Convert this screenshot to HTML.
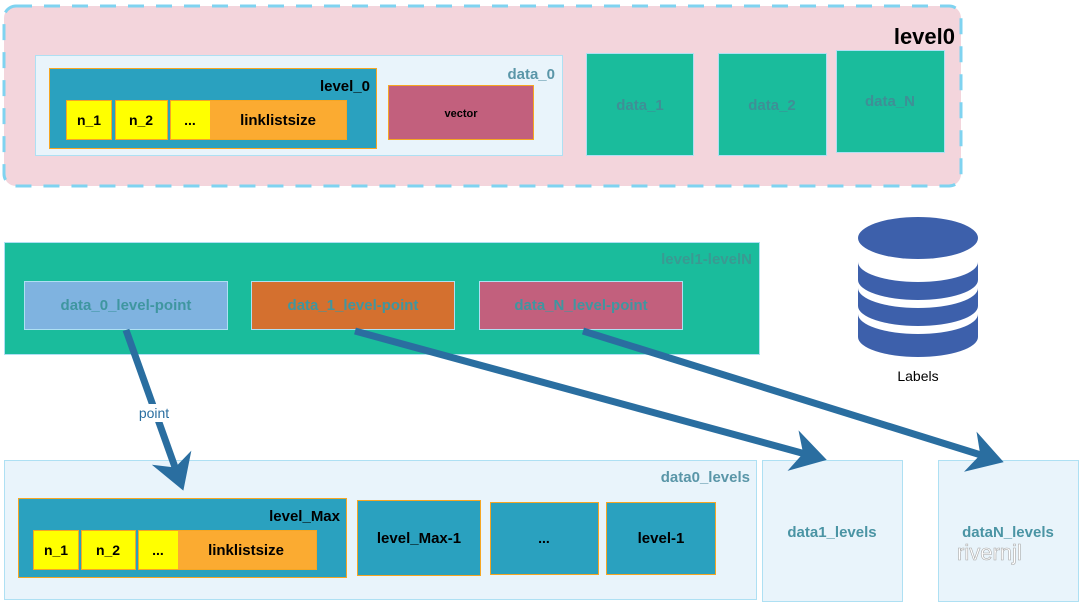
<!DOCTYPE html>
<html><head><meta charset="utf-8"><style>
html,body{margin:0;padding:0;background:#fff;}
svg{display:block;font-family:"Liberation Sans",sans-serif;font-weight:bold;}
</style></head><body>
<svg width="1080" height="602" viewBox="0 0 1080 602">
<defs>
<marker id="ah" markerWidth="6" markerHeight="6" refX="4" refY="3" orient="auto" markerUnits="strokeWidth"><path d="M0,0 L5,3 L0,6 L1.5,3 Z" fill="#2a6ea0"/></marker>
</defs>
<rect x="4" y="6" width="957" height="180" rx="12" fill="#f3d5dc" stroke="#7fd3f0" stroke-width="3" stroke-dasharray="16,12"/>
<text x="955" y="44" text-anchor="end" font-size="22" fill="#000">level0</text>
<rect x="35.5" y="55.5" width="527" height="100" fill="#e9f4fb" stroke="#aee0f3"/>
<text x="555" y="79" text-anchor="end" font-size="15" fill="#5a96a8">data_0</text>
<rect x="49.5" y="68.5" width="327" height="80" fill="#2aa1bf" stroke="#f5a623"/>
<text x="370" y="91" text-anchor="end" font-size="15" fill="#000">level_0</text>
<rect x="66.5" y="100.5" width="45" height="39" fill="#ffff00" stroke="#f5a623"/>
<text x="89" y="125" text-anchor="middle" font-size="14">n_1</text>
<rect x="115.5" y="100.5" width="52" height="39" fill="#ffff00" stroke="#f5a623"/>
<text x="141" y="125" text-anchor="middle" font-size="14">n_2</text>
<rect x="170.5" y="100.5" width="176" height="39" fill="#fbab31" stroke="#f5a623"/>
<rect x="171" y="101" width="39" height="38" fill="#ffff00"/>
<text x="190" y="125" text-anchor="middle" font-size="14">...</text>
<text x="278" y="125" text-anchor="middle" font-size="15">linklistsize</text>
<rect x="388.5" y="85.5" width="145" height="54" fill="#c2607d" stroke="#f5a623"/>
<text x="461" y="117" text-anchor="middle" font-size="11">vector</text>
<rect x="586.5" y="53.5" width="107" height="102" fill="#1abc9c" stroke="#aee0f3"/>
<text x="640" y="110" text-anchor="middle" font-size="15" fill="#3f8f96">data_1</text>
<rect x="718.5" y="53.5" width="108" height="102" fill="#1abc9c" stroke="#aee0f3"/>
<text x="772" y="110" text-anchor="middle" font-size="15" fill="#3f8f96">data_2</text>
<rect x="836.5" y="50.5" width="108" height="102" fill="#1abc9c" stroke="#aee0f3"/>
<text x="890" y="106" text-anchor="middle" font-size="15" fill="#3f8f96">data_N</text>
<rect x="4.5" y="242.5" width="755" height="112" fill="#1abc9c" stroke="#aee0f3"/>
<text x="752" y="264" text-anchor="end" font-size="15" fill="#3a9a92">level1-levelN</text>
<rect x="24.5" y="281.5" width="203" height="48" fill="#7fb3e0" stroke="#aee0f3"/>
<text x="126" y="310" text-anchor="middle" font-size="15" fill="#3f96a0">data_0_level-point</text>
<rect x="251.5" y="281.5" width="203" height="48" fill="#d4702f" stroke="#aee0f3"/>
<text x="353" y="310" text-anchor="middle" font-size="15" fill="#3f96a0">data_1_level-point</text>
<rect x="479.5" y="281.5" width="203" height="48" fill="#c2607d" stroke="#aee0f3"/>
<text x="581" y="310" text-anchor="middle" font-size="15" fill="#3f96a0">data_N_level-point</text>
<g fill="#3d60ab">
<path d="M858,262 A60,20 0 0 0 978,262 L978,280 A60,20 0 0 1 858,280 Z"/>
<path d="M858,288 A60,20 0 0 0 978,288 L978,306 A60,20 0 0 1 858,306 Z"/>
<path d="M858,314 A60,20 0 0 0 978,314 L978,337 A60,20 0 0 1 858,337 Z"/>
<ellipse cx="918" cy="238" rx="60" ry="21"/>
</g>
<text x="918" y="381" text-anchor="middle" font-size="14" font-weight="normal" fill="#000">Labels</text>
<rect x="4.5" y="460.5" width="752" height="139" fill="#e9f4fb" stroke="#aee0f3"/>
<text x="750" y="482" text-anchor="end" font-size="15" fill="#5a96a8">data0_levels</text>
<rect x="18.5" y="498.5" width="328" height="79" fill="#2aa1bf" stroke="#f5a623"/>
<text x="340" y="521" text-anchor="end" font-size="15" fill="#000">level_Max</text>
<rect x="33.5" y="530.5" width="45" height="39" fill="#ffff00" stroke="#f5a623"/>
<text x="56" y="555" text-anchor="middle" font-size="14">n_1</text>
<rect x="81.5" y="530.5" width="54" height="39" fill="#ffff00" stroke="#f5a623"/>
<text x="108" y="555" text-anchor="middle" font-size="14">n_2</text>
<rect x="138.5" y="530.5" width="178" height="39" fill="#fbab31" stroke="#f5a623"/>
<rect x="139" y="531" width="39" height="38" fill="#ffff00"/>
<text x="158" y="555" text-anchor="middle" font-size="14">...</text>
<text x="246" y="555" text-anchor="middle" font-size="15">linklistsize</text>
<rect x="357.5" y="500.5" width="123" height="75" fill="#2aa1bf" stroke="#f5a623"/>
<text x="419" y="543" text-anchor="middle" font-size="15">level_Max-1</text>
<rect x="490.5" y="502.5" width="108" height="72" fill="#2aa1bf" stroke="#f5a623"/>
<text x="544" y="543" text-anchor="middle" font-size="14">...</text>
<rect x="606.5" y="502.5" width="109" height="72" fill="#2aa1bf" stroke="#f5a623"/>
<text x="661" y="543" text-anchor="middle" font-size="15">level-1</text>
<rect x="762.5" y="460.5" width="140" height="141" fill="#e9f4fb" stroke="#aee0f3"/>
<text x="832" y="537" text-anchor="middle" font-size="15" fill="#4a94a4">data1_levels</text>
<rect x="938.5" y="460.5" width="140" height="141" fill="#e9f4fb" stroke="#aee0f3"/>
<text x="1008" y="537" text-anchor="middle" font-size="15" fill="#4a94a4">dataN_levels</text>
<text x="957" y="560" font-size="22" font-weight="normal" fill="#fff" stroke="#aaa" stroke-width="0.6">rivernjl</text>
<g stroke="#2a6ea0" stroke-width="7" fill="none" marker-end="url(#ah)">
<line x1="126" y1="330" x2="181" y2="484"/>
<line x1="355" y1="331" x2="820" y2="458"/>
<line x1="583" y1="331" x2="997" y2="460"/>
</g>
<rect x="133" y="404" width="42" height="18" fill="#fff"/>
<text x="154" y="418" text-anchor="middle" font-size="14" font-weight="normal" fill="#2a6ea0">point</text>
</svg>
</body></html>
